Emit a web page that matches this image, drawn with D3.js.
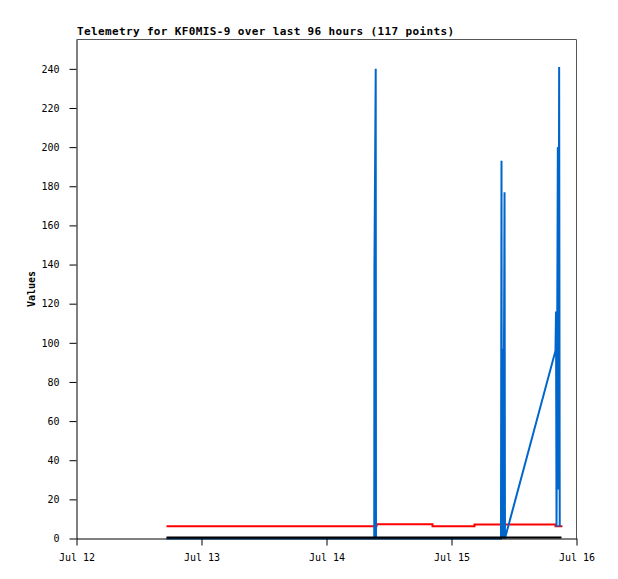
<!DOCTYPE html>
<html>
<head>
<meta charset="utf-8">
<script src="https://cdn.jsdelivr.net/npm/d3@7"></script>
<style>
  body { margin: 0; background: #fff; }
  text { font-family: "DejaVu Sans Mono", monospace; }
</style>
</head>
<body>
<div id="chart"></div>
<script>
const title = "Telemetry for KF0MIS-9 over last 96 hours (117 points)";
const xTicks = ["2024-07-12", "2024-07-13", "2024-07-14", "2024-07-15", "2024-07-16"];
const yTicks = [0, 20, 40, 60, 80, 100, 120, 140, 160, 180, 200, 220, 240];

// black channel, flat at zero
const blackSeries = [
  ["2024-07-12T17:17", 0],
  ["2024-07-15T21:07", 0]
];

// red channel
const redSeries = [
  ["2024-07-12T17:17", 6.3],
  ["2024-07-14T09:36", 7.3],
  ["2024-07-14T20:21", 6.3],
  ["2024-07-15T04:25", 7.2],
  ["2024-07-15T19:58", 6.3],
  ["2024-07-15T21:18", 6.3]
];

// blue channel
const blueSeries = [
  ["2024-07-12T17:17", 0],
  ["2024-07-14T09:10", 0],
  ["2024-07-14T09:12", 137],
  ["2024-07-14T09:27", 240],
  ["2024-07-14T09:30", 0],
  ["2024-07-15T09:30", 0],
  ["2024-07-15T09:36", 193],
  ["2024-07-15T09:40", 0],
  ["2024-07-15T09:53", 97],
  ["2024-07-15T09:57", 0],
  ["2024-07-15T10:11", 177],
  ["2024-07-15T10:16", 0],
  ["2024-07-15T10:28", 2],
  ["2024-07-15T19:58", 96],
  ["2024-07-15T20:04", 116],
  ["2024-07-15T20:10", 6],
  ["2024-07-15T20:25", 200],
  ["2024-07-15T20:31", 25],
  ["2024-07-15T20:40", 241],
  ["2024-07-15T20:47", 6]
];

const width = 618, height = 579;
const parse = d3.timeParse("%Y-%m-%dT%H:%M");
const parseDay = d3.timeParse("%Y-%m-%d");

const svg = d3.select("#chart").append("svg")
    .attr("width", width)
    .attr("height", height);

const x = d3.scaleTime()
    .domain([parseDay(xTicks[0]), parseDay(xTicks[xTicks.length - 1])])
    .range([76.5, 576.5]);

const y = d3.scaleLinear()
    .domain([0, 255])
    .range([538.5, 39.5]);

// frame top / right
svg.append("path")
    .attr("d", `M76.5,39.5H576.5V538.5`)
    .attr("fill", "none")
    .attr("stroke", "#555")
    .attr("stroke-width", 1);

const line = d3.line()
    .x(d => x(parse(d[0])))
    .y(d => y(d[1]));

svg.append("path")
    .datum(redSeries)
    .attr("fill", "none")
    .attr("stroke", "#ff0000")
    .attr("stroke-width", 2)
    .attr("d", line.curve(d3.curveStepAfter));

svg.append("path")
    .datum(blueSeries)
    .attr("fill", "none")
    .attr("stroke", "#0066cc")
    .attr("stroke-width", 2)
    .attr("d", line.curve(d3.curveLinear));

svg.append("path")
    .datum(blackSeries)
    .attr("fill", "none")
    .attr("stroke", "#000")
    .attr("stroke-width", 2)
    .attr("transform", "translate(0,-1)")
    .attr("d", line);

// axes
svg.append("g")
    .attr("transform", "translate(76.5,0)")
    .call(d3.axisLeft(y).tickValues(yTicks).tickSize(7).tickPadding(10).tickSizeOuter(0));

svg.append("g")
    .attr("transform", "translate(0,538.5)")
    .call(d3.axisBottom(x)
      .tickValues(xTicks.map(parseDay))
      .tickFormat(d3.timeFormat("%b %-d"))
      .tickSize(7).tickPadding(8).tickSizeOuter(0));

svg.selectAll(".domain").attr("stroke", "#000");
svg.selectAll(".tick line").attr("stroke", "#000");
svg.selectAll(".tick text")
    .attr("font-family", "DejaVu Sans Mono, monospace")
    .attr("font-size", 10)
    .attr("fill", "#000");

// title
svg.append("text")
    .attr("x", 77)
    .attr("y", 35)
    .attr("font-size", 11)
    .attr("font-weight", "bold")
    .attr("textLength", 377)
    .attr("lengthAdjust", "spacing")
    .text(title);

// y label
svg.append("text")
    .attr("transform", "translate(35,289) rotate(-90)")
    .attr("text-anchor", "middle")
    .attr("font-size", 10)
    .attr("font-weight", "bold")
    .text("Values");
</script>
</body>
</html>
